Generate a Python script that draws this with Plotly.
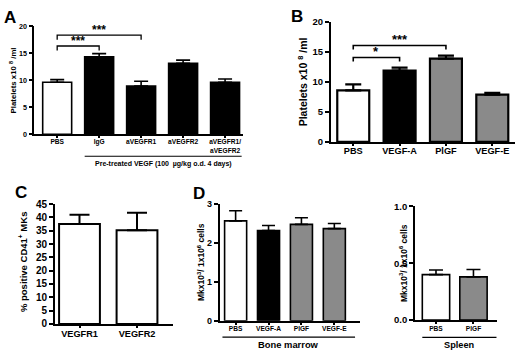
import plotly.graph_objects as go

W, H = 520, 357
FONT = "Liberation Sans"
GRAY = "#8a8a8a"

# ---------------- data ----------------
a_cats = ["PBS", "IgG", "aVEGFR1", "aVEGFR2", "aVEGFR1/<br>aVEGFR2"]
a_vals = [9.6, 14.3, 8.9, 13.1, 9.6]
a_err = [0.5, 0.6, 0.9, 0.6, 0.6]
a_fill = ["white", "black", "black", "black", "black"]
a_sig = [(0, 1, "***"), (0, 2, "***")]
a_ticks = [0, 5, 10, 15, 20]
a_group = "Pre-treated VEGF (100  µg/kg o.d. 4 days)"

b_cats = ["PBS", "VEGF-A", "PlGF", "VEGF-E"]
b_vals = [8.6, 11.9, 13.9, 7.9]
b_err = [1.0, 0.5, 0.5, 0.3]
b_fill = ["white", "black", GRAY, GRAY]
b_sig = [(0, 1, "*"), (0, 2, "***")]
b_ticks = [0, 5, 10, 15, 20]

c_cats = ["VEGFR1", "VEGFR2"]
c_vals = [37.5, 35.2]
c_err = [3.5, 6.6]
c_fill = ["white", "white"]
c_ticks = [0, 5, 10, 15, 20, 25, 30, 35, 40, 45]

d1_cats = ["PBS", "VEGF-A", "PlGF", "VEGF-E"]
d1_vals = [2.57, 2.32, 2.48, 2.37]
d1_err = [0.26, 0.13, 0.17, 0.13]
d1_fill = ["white", "black", GRAY, GRAY]
d1_ticks = [0, 1, 2, 3]
d1_group = "Bone marrow"

d2_cats = ["PBS", "PlGF"]
d2_vals = [0.40, 0.38]
d2_err = [0.04, 0.065]
d2_fill = ["white", GRAY]
d2_ticks = [0.0, 0.5, 1.0]
d2_ticktext = ["0.0", "0.5", "1.0"]
d2_group = "Spleen"


def xp(px):
    return px / W


def yp(py):
    return 1 - py / H


fig = go.Figure()
layout = {}
shapes = []
annotations = []


def panel(i, cats, vals, err, fills, xdom, ydom, xr, yr, yticks, bw,
          tf, cf, lw, cap, ytitle, ytitle_pos, tf_title, letter=None, letter_pos=None,
          yticktext=None, standoff=-3):
    sx = "" if i == 1 else str(i)
    xs = list(range(len(cats)))
    fig.add_trace(go.Bar(
        x=xs, y=vals, width=bw,
        marker=dict(color=fills, line=dict(color="black", width=lw)),
        error_y=dict(type="data", symmetric=False, array=err,
                     arrayminus=[0] * len(err), color="black",
                     thickness=lw, width=cap),
        xaxis="x" + sx, yaxis="y" + sx, showlegend=False, hoverinfo="skip",
    ))
    layout["xaxis" + sx] = dict(
        domain=[xp(xdom[0]), xp(xdom[1])], anchor="y" + sx, range=xr,
        tickvals=xs, ticktext=cats, ticklabelstandoff=standoff,
        tickfont=dict(family=FONT, size=cf, color="black", weight="bold"),
        showline=True, linecolor="black", linewidth=lw,
        ticks="outside", ticklen=2, tickwidth=lw, tickcolor="black",
        showgrid=False, zeroline=False, fixedrange=True,
    )
    layout["yaxis" + sx] = dict(
        domain=[yp(ydom[1]), yp(ydom[0])], anchor="x" + sx, range=yr,
        tickvals=yticks,
        ticktext=[str(t) if yticktext is None else yticktext[k]
                  for k, t in enumerate(yticks)],
        tickfont=dict(family=FONT, size=tf, color="black", weight="bold"),
        showline=True, linecolor="black", linewidth=lw,
        ticks="outside", ticklen=4, tickwidth=lw, tickcolor="black",
        showgrid=False, zeroline=False, fixedrange=True,
    )
    annotations.append(dict(
        x=xp(ytitle_pos[0]), y=yp(ytitle_pos[1]), xref="paper", yref="paper",
        text="<b>%s</b>" % ytitle, textangle=-90, showarrow=False,
        font=dict(family=FONT, size=tf_title, color="black"),
        xanchor="center", yanchor="middle",
    ))
    if letter:
        annotations.append(dict(
            x=xp(letter_pos[0]), y=yp(letter_pos[1]), xref="paper", yref="paper",
            text="<b>%s</b>" % letter, showarrow=False,
            font=dict(family=FONT, size=17, color="black"),
            xanchor="center", yanchor="middle",
        ))
    return sx


def brackets(sx, vals, err, sig, gap, step, drop, fs, lw):
    tops = [v + e for v, e in zip(vals, err)]
    prev = None
    for (i, j, s) in sig:
        y = max(tops[i:j + 1]) + gap
        if prev is not None and y < prev + step:
            y = prev + step
        prev = y
        shapes.append(dict(
            type="path", xref="x" + sx, yref="y" + sx,
            path="M %f,%f L %f,%f L %f,%f L %f,%f" % (i, y - drop, i, y, j, y, j, y - drop),
            line=dict(color="black", width=lw),
        ))
        annotations.append(dict(
            x=(i + j) / 2, y=y, xref="x" + sx, yref="y" + sx,
            text="<b>%s</b>" % s, showarrow=False, yanchor="bottom",
            font=dict(family=FONT, size=fs, color="black"), yshift=-0.3 * fs,
        ))


def group_line(sx, x0, x1, py_line, py_text, text, fs, lw):
    shapes.append(dict(
        type="line", xref="x" + sx, yref="paper", x0=x0, x1=x1,
        y0=yp(py_line), y1=yp(py_line), line=dict(color="black", width=lw),
    ))
    annotations.append(dict(
        x=(x0 + x1) / 2, y=yp(py_text), xref="x" + sx, yref="paper",
        text="<b>%s</b>" % text, showarrow=False,
        font=dict(family=FONT, size=fs, color="black"),
        xanchor="center", yanchor="middle",
    ))


# Panel A
bwA = 0.69
sA = panel(1, a_cats, a_vals, a_err, a_fill, (34.3, 242.7), (20.7, 132.7),
           [-0.545, 4.42], [0, 20], a_ticks, bwA, 7.2, 6.6, 1.6, 7,
           "Platelets x10 <sup>8</sup> /ml", (13, 77), 7.8, "A", (10, 12), standoff=-2)
brackets(sA, a_vals, a_err, a_sig, 1.4, 2.0, 0.85, 12, 1.3)
group_line(sA, 1 - bwA / 2, len(a_cats) - 1 + bwA / 2 + 0.05, 155.5, 164, a_group, 7.0, 1.2)

# Panel B
sB = panel(2, b_cats, b_vals, b_err, b_fill, (331, 515), (16.7, 140.7),
           [-0.48, 3.49], [0, 20], b_ticks, 0.69, 9.5, 9.2, 2.2, 8,
           "Platelets x10 <sup>8</sup> /ml", (302, 79), 10.5, "B", (297, 11), standoff=-3)
brackets(sB, b_vals, b_err, b_sig, 1.7, 2.0, 0.65, 13, 1.6)

# Panel C
panel(3, c_cats, c_vals, c_err, c_fill, (55, 173), (205, 329),
      [-0.426, 1.626], [0, 45], c_ticks, 0.71, 10, 9.2, 2.0, 10,
      "% positive CD41<sup>+</sup> MKs", (23, 265), 9.5, "C", (21, 193), standoff=-2)

# Panel D left
bwD1 = 0.67
sD1 = panel(4, d1_cats, d1_vals, d1_err, d1_fill, (219.5, 360), (205, 325.7),
            [-0.49, 3.78], [0, 3], d1_ticks, bwD1, 9, 6.6, 1.6, 6.5,
            "Mkx10<sup>3</sup>/ 1x10<sup>6</sup> cells", (201, 265), 8.5, "D", (199, 194),
            standoff=-1)
group_line(sD1, -0.4, 3.63, 342.7, 350.5, d1_group, 9.4, 1.2)

# Panel D right
bwD2 = 0.73
sD2 = panel(5, d2_cats, d2_vals, d2_err, d2_fill, (415, 496.7), (207.3, 325),
            [-0.56, 1.62], [0, 1.0], d2_ticks, bwD2, 9.5, 6.6, 1.6, 7,
            "Mkx10<sup>3</sup>/ 1x10<sup>6</sup> cells", (403, 266), 8.5,
            yticktext=d2_ticktext, standoff=-1)
group_line(sD2, -bwD2 / 2, 1.62, 343, 350.5, d2_group, 9.2, 1.2)

fig.update_layout(
    width=W, height=H, margin=dict(l=0, r=0, t=0, b=0),
    paper_bgcolor="white", plot_bgcolor="white",
    font=dict(family=FONT, color="black"),
    shapes=shapes, annotations=annotations, barmode="overlay",
    hovermode=False,
    **layout,
)
fig.write_html("out.html", config={"displayModeBar": False},
               post_script="document.body.style.margin='0';document.body.style.overflow='hidden';")
